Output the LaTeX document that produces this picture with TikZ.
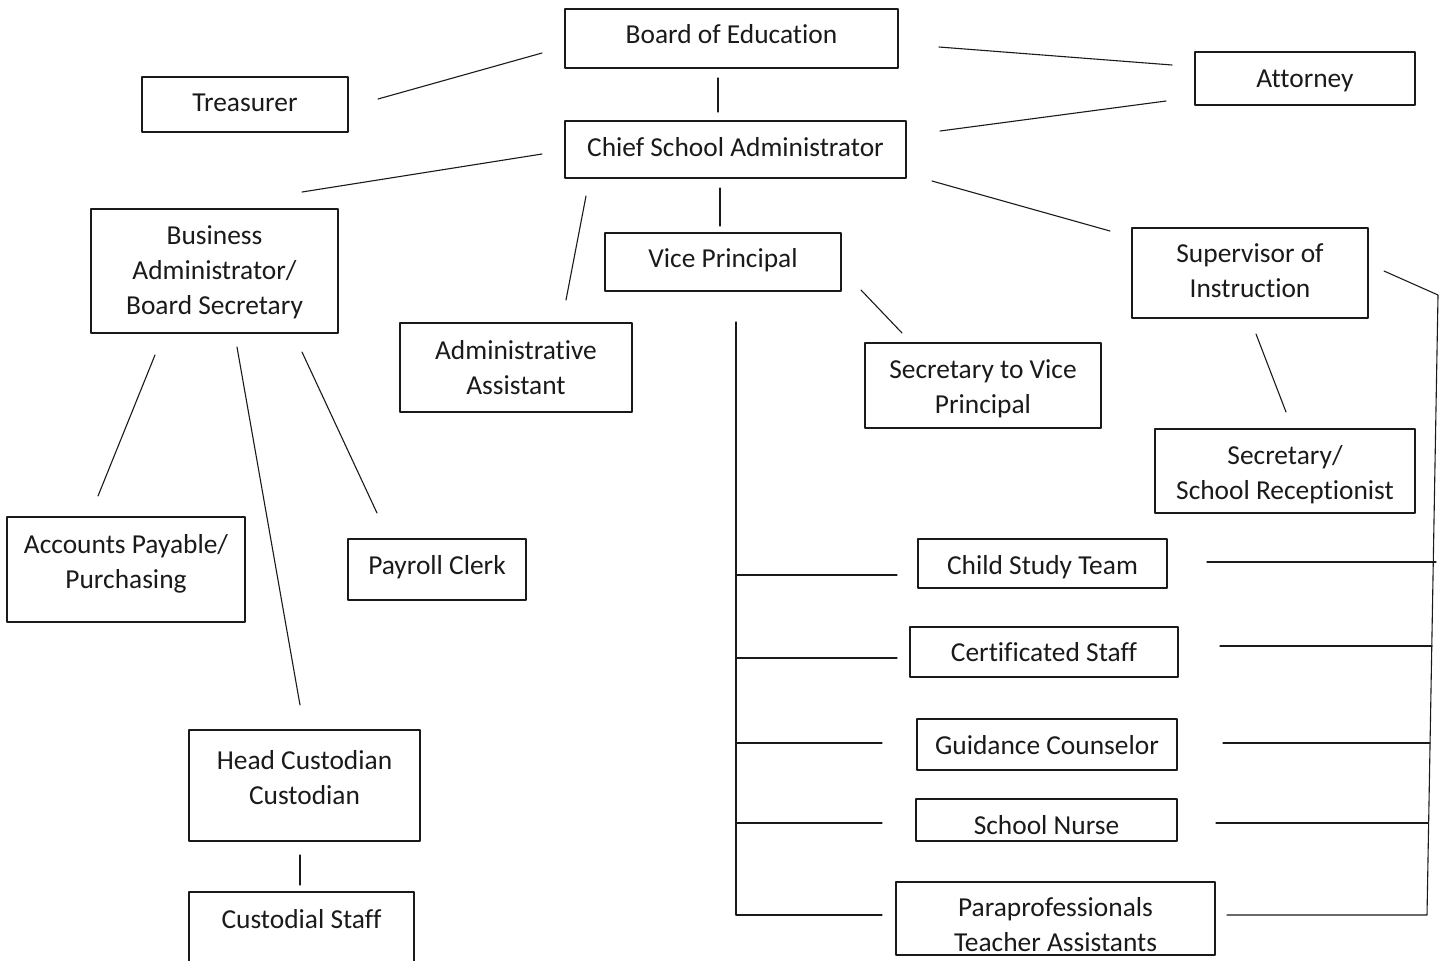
\documentclass[tikz,border=0pt]{standalone}
\usepackage{fontspec}
\setmainfont[Ligatures=NoCommon]{Carlito}
\usepackage{tikz}
\usetikzlibrary{positioning,calc}
\definecolor{ink}{HTML}{1A1A1A}
\tikzset{
    every picture/.style={line cap=round,line join=round},
    orgbox/.style={draw=ink,line width=0.8pt,inner sep=1pt,outer sep=0pt,
      font=\fontsize{13.7}{17.5}\selectfont,align=center,text=ink},
    tx/.style={text height=#1,text depth=4pt},
    link/.style={draw=ink,line width=0.55pt}
}
\begin{document}
\begin{tikzpicture}[x=0.5pt,y=-0.5pt]
  \useasboundingbox (0,0) rectangle (1444,960);
  \node[orgbox,tx=9.3pt,minimum width=166.5pt,minimum height=29.5pt] (board) at (731.5,38.5) {Board of Education};
  \node[orgbox,tx=11.3pt,minimum width=103pt,minimum height=27.5pt] (treasurer) at (245,104.5) {Treasurer};
  \node[orgbox,tx=13.3pt,minimum width=110pt,minimum height=26.5pt] (attorney) at (1305,78.5) {Attorney};
  \node[orgbox,tx=11.3pt,minimum width=170.5pt,minimum height=28.5pt] (csa) at (735.5,149.5) {Chief School Administrator};
  \node[orgbox,tx=47.3pt,minimum width=123.5pt,minimum height=62pt] (busadmin) at (214.5,271) {Business\\Administrator/\\Board Secretary};
  \node[orgbox,tx=9.8pt,minimum width=118pt,minimum height=29pt] (vp) at (723,262) {Vice Principal};
  \node[orgbox,tx=28.8pt,minimum width=118pt,minimum height=45pt] (supervisor) at (1250,273) {Supervisor of\\Instruction};
  \node[orgbox,tx=30.8pt,minimum width=116pt,minimum height=44.5pt] (adminasst) at (516,367.5) {Administrative\\Assistant};
  \node[orgbox,tx=31.8pt,minimum width=118pt,minimum height=42.5pt] (secvp) at (983,385.5) {Secretary to Vice\\Principal};
  \node[orgbox,tx=32.3pt,minimum width=130pt,minimum height=42pt] (recept) at (1285,471) {Secretary/\\School Receptionist};
  \node[orgbox,tx=23.3pt,minimum width=119pt,minimum height=52.5pt] (accounts) at (126,569.5) {Accounts Payable/\\Purchasing};
  \node[orgbox,tx=9.3pt,minimum width=89pt,minimum height=30.5pt] (payroll) at (437,569.5) {Payroll Clerk};
  \node[orgbox,tx=15.3pt,minimum width=124.5pt,minimum height=24.5pt] (cst) at (1042.5,563.5) {Child Study Team};
  \node[orgbox,tx=13.8pt,minimum width=134pt,minimum height=25pt] (certstaff) at (1044,652) {Certificated Staff};
  \node[orgbox,tx=13.8pt,minimum width=130pt,minimum height=25.5pt] (guidance) at (1047,744.5) {Guidance Counselor};
  \node[orgbox,tx=14.8pt,text depth=0pt,minimum width=130.5pt,minimum height=21pt] (nurse) at (1046.5,820) {School Nurse};
  \node[orgbox,tx=32.8pt,text depth=0pt,minimum width=159.5pt,minimum height=36.5pt] (para) at (1055.5,918.5) {Paraprofessionals\\Teacher Assistants};
  \node[orgbox,tx=22.8pt,minimum width=115.5pt,minimum height=55.5pt] (headcust) at (304.5,785.5) {Head Custodian\\Custodian};
  \node[orgbox,tx=1.8pt,minimum width=112.5pt,minimum height=39pt] (custstaff) at (301.5,931) {Custodial Staff};

  \coordinate (tr-a) at (378,99);    \coordinate (tr-b) at (542,53);
  \coordinate (bc-a) at (718,78);    \coordinate (bc-b) at (718,112);
  \coordinate (ba-a) at (939,47);    \coordinate (ba-b) at (1172,65);
  \coordinate (ca-a) at (940,131);   \coordinate (ca-b) at (1166,101);
  \coordinate (cb-a) at (542,154);   \coordinate (cb-b) at (302,192);
  \coordinate (cd-a) at (586,196);   \coordinate (cd-b) at (566,300);
  \coordinate (cv-a) at (720,188);   \coordinate (cv-b) at (720,226);
  \coordinate (cs-a) at (932,181);   \coordinate (cs-b) at (1110,231);
  \coordinate (vs-a) at (861,290);   \coordinate (vs-b) at (902,333);
  \coordinate (sr-a) at (1256,334);  \coordinate (sr-b) at (1286,412);
  \coordinate (bp-a) at (155,355);   \coordinate (bp-b) at (98,496);
  \coordinate (bh-a) at (237,347);   \coordinate (bh-b) at (300,705);
  \coordinate (bk-a) at (302,352);   \coordinate (bk-b) at (377,513);
  \coordinate (hc-a) at (300,855);   \coordinate (hc-b) at (300,885);

  \coordinate (lbus-top) at (736,322);
  \coordinate (lbus-cst) at (736,575);  \coordinate (cst-l) at (897,575);
  \coordinate (lbus-cert) at (736,658); \coordinate (cert-l) at (897,658);
  \coordinate (lbus-gc) at (736,743);   \coordinate (gc-l) at (882,743);
  \coordinate (lbus-sn) at (736,823);   \coordinate (sn-l) at (882,823);
  \coordinate (lbus-end) at (736,915);  \coordinate (para-l) at (882,915);

  \coordinate (sup-r) at (1384,271);
  \coordinate (rbus-top) at (1438,295);
  \coordinate (rbus-cst) at (1436,562);  \coordinate (cst-r) at (1207,562);
  \coordinate (rbus-cert) at (1432,646); \coordinate (cert-r) at (1220,646);
  \coordinate (rbus-gc) at (1430,743);   \coordinate (gc-r) at (1223,743);
  \coordinate (rbus-sn) at (1428,823);   \coordinate (sn-r) at (1216,823);
  \coordinate (rbus-end) at (1427,915);  \coordinate (para-r) at (1227,915);

  \foreach \c in {tr,bc,ba,ca,cb,cd,cv,cs,vs,sr,bp,bh,bk,hc}
    \draw[link] (\c-a) -- (\c-b);
  \draw[link] (lbus-top) -- (lbus-end) -- (para-l);
  \draw[link] (lbus-cst) -- (cst-l);
  \draw[link] (lbus-cert) -- (cert-l);
  \draw[link] (lbus-gc) -- (gc-l);
  \draw[link] (lbus-sn) -- (sn-l);
  \draw[link] (sup-r) -- (rbus-top) -- (rbus-end) -- (para-r);
  \draw[link] (cst-r) -- (rbus-cst);
  \draw[link] (cert-r) -- (rbus-cert);
  \draw[link] (gc-r) -- (rbus-gc);
  \draw[link] (sn-r) -- (rbus-sn);
\end{tikzpicture}
\end{document}
